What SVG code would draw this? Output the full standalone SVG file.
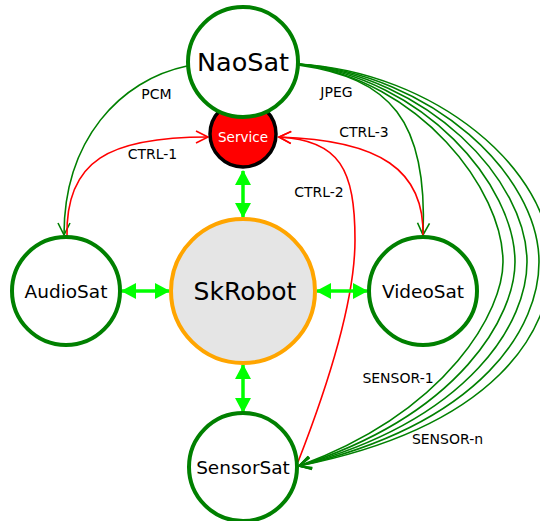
<svg xmlns="http://www.w3.org/2000/svg" width="540" height="521" viewBox="0 0 540 521">
<style>
  .node { fill: #ffffff; stroke: #008000; stroke-width: 4; }
  .ntext { font-family: "DejaVu Sans", sans-serif; fill: #000000; text-anchor: middle; }
  .elabel { font-family: "DejaVu Sans", sans-serif; font-size: 14px; fill: #000000; text-anchor: middle; }
  .g { fill: none; stroke: #008000; stroke-width: 1.6; }
  .r { fill: none; stroke: #ff0000; stroke-width: 1.6; }
  .lime { fill: none; stroke: #00ff00; stroke-width: 3.5; }
</style>
<defs>
  <marker id="vg" markerUnits="userSpaceOnUse" viewBox="0 0 14 14" refX="13" refY="7" markerWidth="14" markerHeight="14" orient="auto" overflow="visible">
    <path d="M1,1 L13,7 L1,13" fill="none" stroke="#008000" stroke-width="1.6"/>
  </marker>
  <marker id="vr" markerUnits="userSpaceOnUse" viewBox="0 0 14 14" refX="13" refY="7" markerWidth="14" markerHeight="14" orient="auto" overflow="visible">
    <path d="M1,1 L13,7 L1,13" fill="none" stroke="#ff0000" stroke-width="1.6"/>
  </marker>
  <marker id="la" markerUnits="userSpaceOnUse" viewBox="0 0 15 16" refX="14" refY="8" markerWidth="15" markerHeight="16" orient="auto-start-reverse" overflow="visible">
    <path d="M0,0 L15,8 L0,16 z" fill="#00ff00"/>
  </marker>
</defs>
<g id="connectors">
  <path class="g" d="M187,66 C120,80 64,140 64,235" marker-end="url(#vg)"/>
  <path class="g" d="M298,65 C390,78 428,120 423,235" marker-end="url(#vg)"/>
  <path class="g" d="M298,64 C420,80 503,190 503,262 C503,310 450,410 299,466" marker-end="url(#vg)"/>
  <path class="g" d="M298,64 C424,78 515,185 515,262 C515,315 462,414 299,466" marker-end="url(#vg)"/>
  <path class="g" d="M298,64 C428,76 527,180 527,262 C527,320 474,418 299,466" marker-end="url(#vg)"/>
  <path class="g" d="M298,64 C432,74 539,175 539,262 C539,325 486,422 299,466" marker-end="url(#vg)"/>
  <path class="g" d="M298,64 C436,72 551,170 551,262 C551,330 498,426 299,466" marker-end="url(#vg)"/>
  <path class="r" d="M67,237 C65,160 110,137 208,137" marker-end="url(#vr)"/>
  <path class="r" d="M423,237 C425,170 380,140 279,137" marker-end="url(#vr)"/>
  <path class="r" d="M298,462 C330,380 355,300 355,240 C355,170 340,140 279,137" marker-end="url(#vr)"/>
  <line class="lime" x1="243" y1="171" x2="243" y2="217" marker-start="url(#la)" marker-end="url(#la)"/>
  <line class="lime" x1="243" y1="365" x2="243" y2="412" marker-start="url(#la)" marker-end="url(#la)"/>
  <line class="lime" x1="122" y1="291" x2="169" y2="291" marker-start="url(#la)" marker-end="url(#la)"/>
  <line class="lime" x1="317" y1="291" x2="367" y2="291" marker-start="url(#la)" marker-end="url(#la)"/>
  <text class="elabel" x="156.5" y="99">PCM</text>
  <text class="elabel" x="336.5" y="97">JPEG</text>
  <text class="elabel" x="152.5" y="159">CTRL-1</text>
  <text class="elabel" x="364" y="137">CTRL-3</text>
  <text class="elabel" x="319" y="197">CTRL-2</text>
  <text class="elabel" x="398" y="383">SENSOR-1</text>
  <text class="elabel" x="447.5" y="444">SENSOR-n</text>
</g>
<g id="Service">
  <circle cx="243" cy="134" r="33" fill="#ff0000" stroke="#000000" stroke-width="3.5"/>
  <text class="ntext" x="243" y="141.5" font-size="13.5" style="fill:#ffffff">Service</text>
</g>
<g id="NaoSat">
  <circle class="node" cx="243" cy="62" r="55"/>
  <text class="ntext" x="243" y="71" font-size="25.5">NaoSat</text>
</g>
<g id="SkRobot">
  <circle cx="243" cy="291" r="72" fill="#e5e5e5" stroke="#ffa500" stroke-width="4"/>
  <text class="ntext" x="245" y="300" font-size="25">SkRobot</text>
</g>
<g id="AudioSat">
  <circle class="node" cx="66" cy="291" r="54"/>
  <text class="ntext" x="66" y="298" font-size="18.5">AudioSat</text>
</g>
<g id="VideoSat">
  <circle class="node" cx="423" cy="291" r="54"/>
  <text class="ntext" x="423" y="298" font-size="18.5">VideoSat</text>
</g>
<g id="SensorSat">
  <circle class="node" cx="243" cy="467" r="54"/>
  <text class="ntext" x="243" y="474" font-size="18.5">SensorSat</text>
</g>
</svg>
